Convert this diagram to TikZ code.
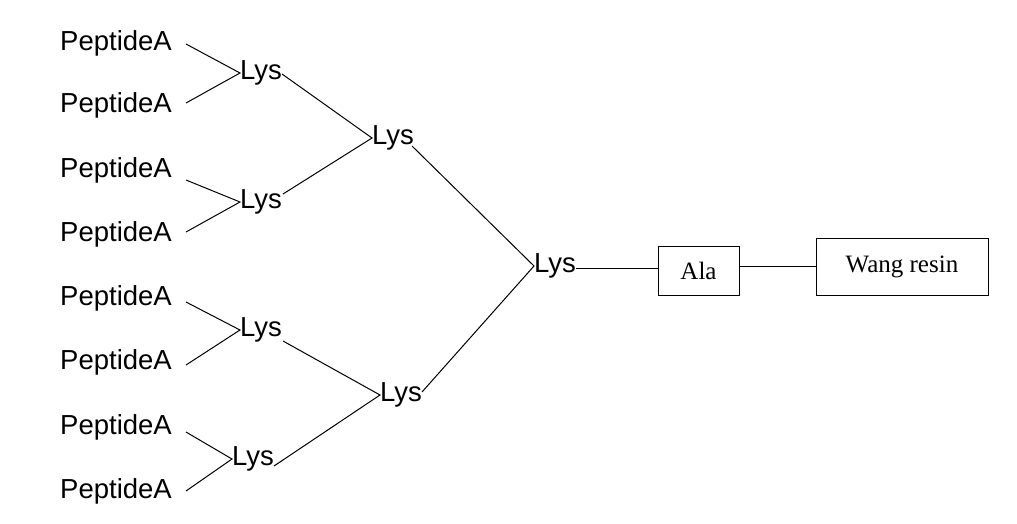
\documentclass[tikz,border=0pt]{standalone}
\usepackage{fontspec}
\setmainfont{Liberation Sans}
\newfontfamily\serif{Liberation Serif}
\begin{document}
\begin{tikzpicture}[x=1pt,y=-1pt,
  lab/.style={inner sep=0pt,anchor=west,font=\fontsize{27.5}{27.5}\selectfont},
  box/.style={draw,line width=1pt,inner sep=0pt,font=\serif\fontsize{25}{25}\selectfont},
  ln/.style={line width=1pt}]
\useasboundingbox (0,0) rectangle (1017,523);
\foreach \i/\y in {1/43,2/105,3/170,4/234,5/298,6/362,7/427,8/491}
  \node[lab] (p\i) at (60,\y) {PeptideA};
\foreach \n/\x/\y in {a/240/73,b/240/202,c/240/330,d/232/459,e/372/138,f/380/395,g/534/266}
  \node[lab] (\n) at (\x,\y) {Lys};
\node[box,minimum width=81pt,minimum height=49pt] (ala) at (698.5,270.5) {\raisebox{-2pt}{Ala}};
\node[box,minimum width=172pt,minimum height=57pt] (wang) at (902,266.5) {Wang resin};
\coordinate (q1) at (186,44); \coordinate (q2) at (186,103);
\coordinate (q3) at (186,180); \coordinate (q4) at (186,232);
\coordinate (q5) at (186,302); \coordinate (q6) at (186,365);
\coordinate (q7) at (186,432); \coordinate (q8) at (186,491);
\draw[ln] (q1) -- (a.west) -- (q2);
\draw[ln] (q3) -- (b.west) -- (q4);
\draw[ln] (q5) -- (c.west) -- (q6);
\draw[ln] (q7) -- (d.west) -- (q8);
\draw[ln] (282,74) -- (e.west) -- (283,194);
\draw[ln] (283,341) -- (f.west) -- (274,466);
\draw[ln] (412,146) -- (g.west) -- (422,392);
\draw[ln] (g.east |- 0,268) -- (ala.west |- 0,268);
\draw[ln] (ala.east |- 0,266) -- (wang.west |- 0,266);
\end{tikzpicture}
\end{document}
